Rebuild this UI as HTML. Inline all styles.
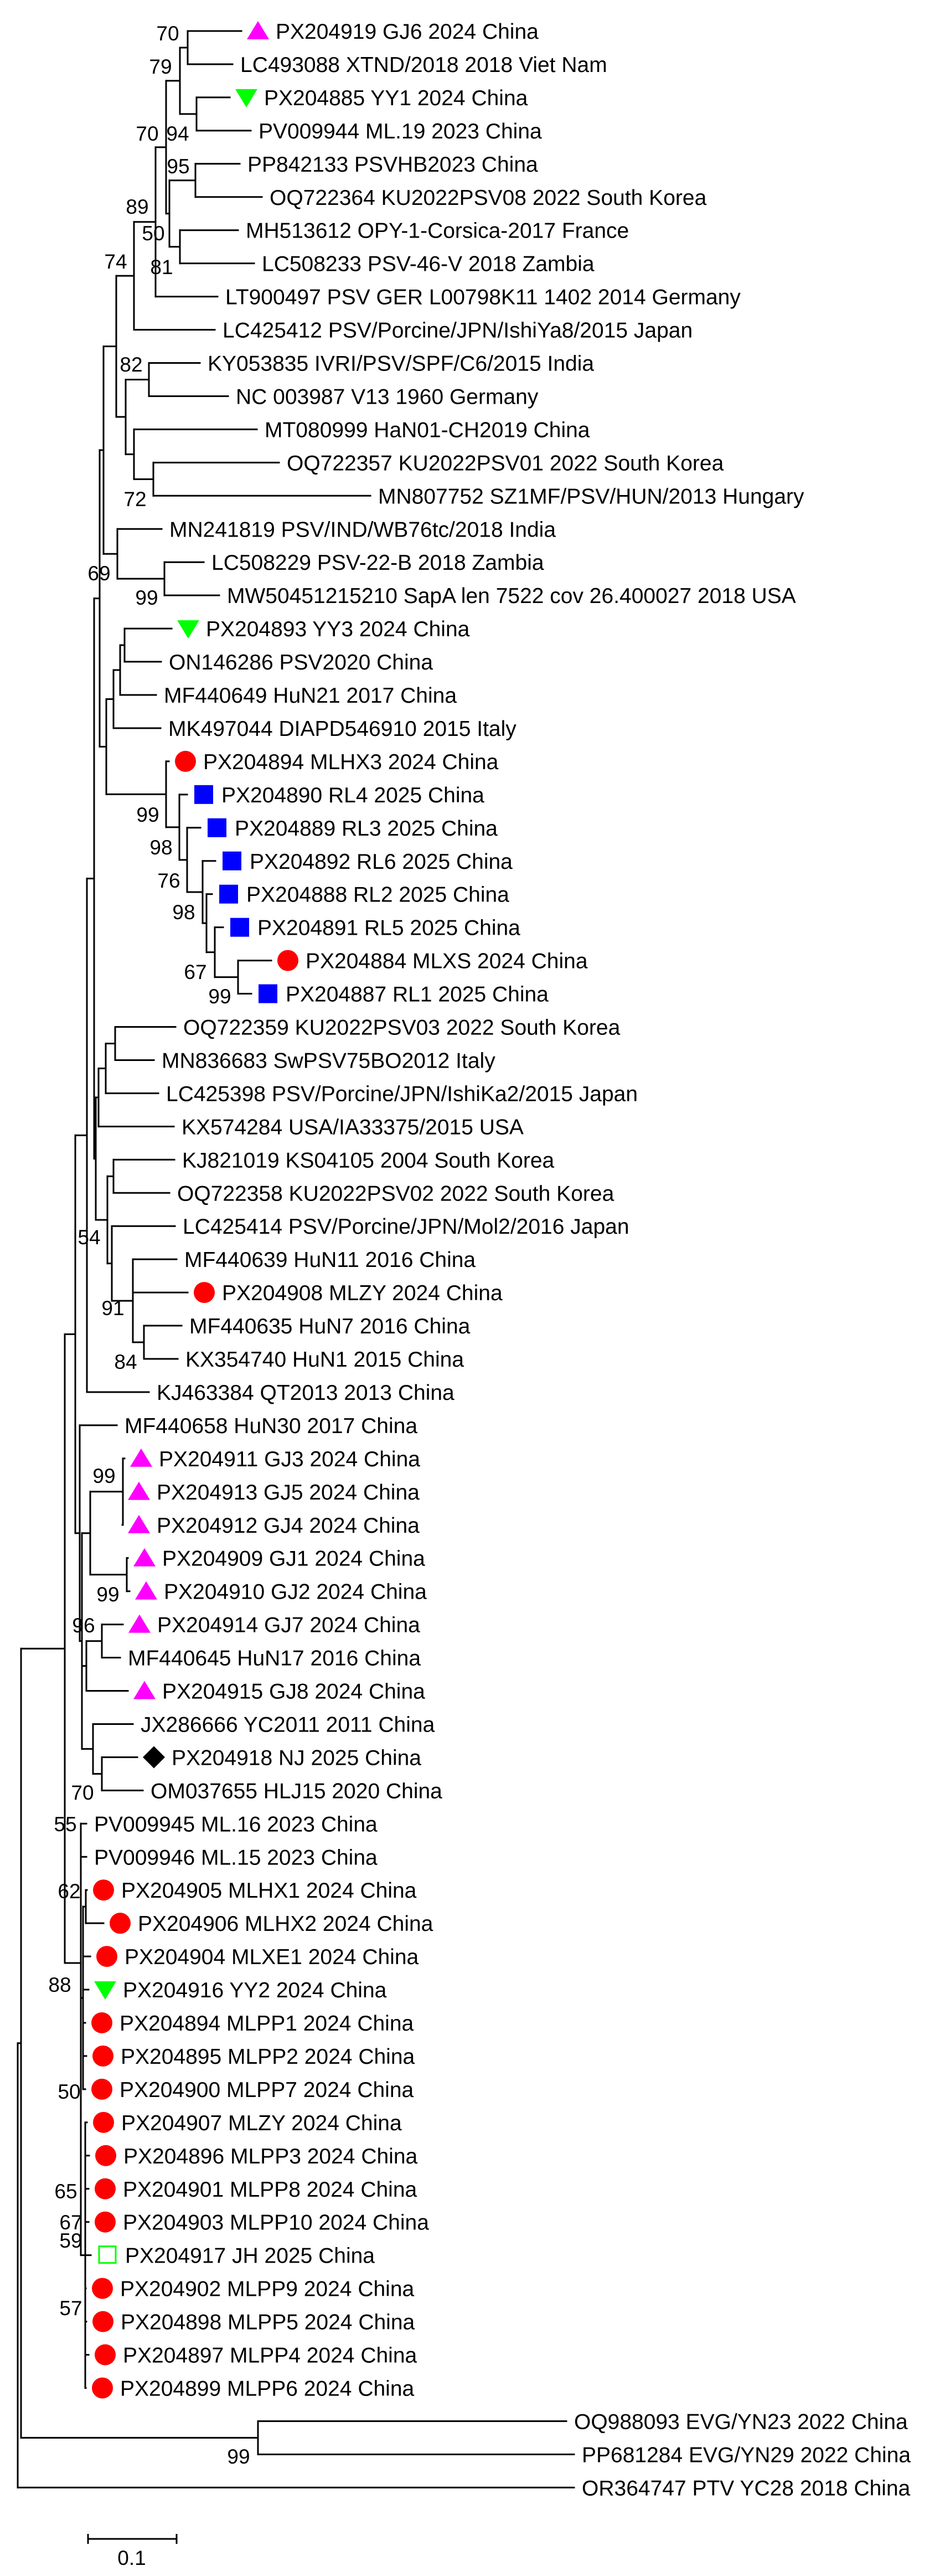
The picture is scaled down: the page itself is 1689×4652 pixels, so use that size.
<!DOCTYPE html>
<html><head><meta charset="utf-8"><title>Phylogenetic tree</title>
<style>html,body{margin:0;padding:0;background:#fff;}svg{display:block;}</style>
</head><body>
<svg id="tree" xmlns="http://www.w3.org/2000/svg" width="1689" height="4652" viewBox="0 0 1689 4652" font-family="'Liberation Sans', Arial, sans-serif">
<rect width="1689" height="4652" fill="#fff"/>
<g id="lines" stroke="#000" stroke-width="3" fill="none" stroke-linecap="square"></g>
<g id="marks"></g>
<g id="labels" font-size="39" fill="#000"></g>
<g id="boots" font-size="37" fill="#000" text-anchor="middle"></g>
<g id="scale">
<line x1="159" y1="4585" x2="319" y2="4585" stroke="#000" stroke-width="3"/>
<line x1="159" y1="4576" x2="159" y2="4594" stroke="#000" stroke-width="3"/>
<line x1="319" y1="4576" x2="319" y2="4594" stroke="#000" stroke-width="3"/>
<text x="238" y="4632" font-size="37" text-anchor="middle">0.1</text>
</g>
</svg>
<script>
const leafLabels=["PX204919 GJ6 2024 China","LC493088 XTND/2018 2018 Viet Nam","PX204885 YY1 2024 China","PV009944 ML.19 2023 China","PP842133 PSVHB2023 China","OQ722364 KU2022PSV08 2022 South Korea","MH513612 OPY-1-Corsica-2017 France","LC508233 PSV-46-V 2018 Zambia","LT900497 PSV GER L00798K11 1402 2014 Germany","LC425412 PSV/Porcine/JPN/IshiYa8/2015 Japan","KY053835 IVRI/PSV/SPF/C6/2015 India","NC 003987 V13 1960 Germany","MT080999 HaN01-CH2019 China","OQ722357 KU2022PSV01 2022 South Korea","MN807752 SZ1MF/PSV/HUN/2013 Hungary","MN241819 PSV/IND/WB76tc/2018 India","LC508229 PSV-22-B 2018 Zambia","MW50451215210 SapA len 7522 cov 26.400027 2018 USA","PX204893 YY3 2024 China","ON146286 PSV2020 China","MF440649 HuN21 2017 China","MK497044 DIAPD546910 2015 Italy","PX204894 MLHX3 2024 China","PX204890 RL4 2025 China","PX204889 RL3 2025 China","PX204892 RL6 2025 China","PX204888 RL2 2025 China","PX204891 RL5 2025 China","PX204884 MLXS 2024 China","PX204887 RL1 2025 China","OQ722359 KU2022PSV03 2022 South Korea","MN836683 SwPSV75BO2012 Italy","LC425398 PSV/Porcine/JPN/IshiKa2/2015 Japan","KX574284 USA/IA33375/2015 USA","KJ821019 KS04105 2004 South Korea","OQ722358 KU2022PSV02 2022 South Korea","LC425414 PSV/Porcine/JPN/Mol2/2016 Japan","MF440639 HuN11 2016 China","PX204908 MLZY 2024 China","MF440635 HuN7 2016 China","KX354740 HuN1 2015 China","KJ463384 QT2013 2013 China","MF440658 HuN30 2017 China","PX204911 GJ3 2024 China","PX204913 GJ5 2024 China","PX204912 GJ4 2024 China","PX204909 GJ1 2024 China","PX204910 GJ2 2024 China","PX204914 GJ7 2024 China","MF440645 HuN17 2016 China","PX204915 GJ8 2024 China","JX286666 YC2011 2011 China","PX204918 NJ 2025 China","OM037655 HLJ15 2020 China","PV009945 ML.16 2023 China","PV009946 ML.15 2023 China","PX204905 MLHX1 2024 China","PX204906 MLHX2 2024 China","PX204904 MLXE1 2024 China","PX204916 YY2 2024 China","PX204894 MLPP1 2024 China","PX204895 MLPP2 2024 China","PX204900 MLPP7 2024 China","PX204907 MLZY 2024 China","PX204896 MLPP3 2024 China","PX204901 MLPP8 2024 China","PX204903 MLPP10 2024 China","PX204917 JH 2025 China","PX204902 MLPP9 2024 China","PX204898 MLPP5 2024 China","PX204897 MLPP4 2024 China","PX204899 MLPP6 2024 China","OQ988093 EVG/YN23 2022 China","PP681284 EVG/YN29 2022 China","OR364747 PTV YC28 2018 China"];
const leafMarkers=["tu","","td","","","","","","","","","","","","","","","","td","","","","c","s","s","s","s","s","c","s","","","","","","","","","c","","","","","tu","tu","tu","tu","tu","tu","","tu","","d","","","","c","c","c","td","c","c","c","c","c","c","c","o","c","c","c","c","","",""];
const tipX=[436,420,415,453,433,473,430,459,393,388,361,412,464,504,669,292,368,396,310,291,282,290,305,338,362,389,383,403,490,454,317,278,286,314,315,306,316,319,339,328,321,269,211,225,221,221,231,234,222,217,231,240,248,258,156,156,157,187,163,160,154,156,154,157,161,160,160,164,155,156,160,155,1023,1037,1037];
const bootVals=[70,79,70,94,95,89,50,81,74,82,72,69,99,99,98,76,98,67,99,54,91,84,99,99,96,70,55,62,88,50,65,67,59,57,99];
const bootPos=[[303,60],[290,120],[266,241],[321,241],[322,300],[248,373],[277,421],[292,482],[209,472],[237,658],[244,901],[179,1035],[265,1079],[267,1471],[291,1530],[305,1590],[332,1647],[353,1755],[397,1799],[161,2234],[204,2362],[227,2459],[188,2665],[195,2879],[151,2935],[149,3237],[118,3294],[125,3415],[108,3584],[125,3777],[119,3957],[128,4013],[128,4046],[128,4168],[431,4436]];
const treeSpec={x:32,c:[{x:38,c:[{x:117,c:[
 {x:136,c:[
  {x:157,c:[
   {x:170,c:[
    {x:180,c:[
     {x:187,c:[
      {x:210,c:[
       {x:242,c:[{x:281,c:[{x:300,c:[{x:325,c:[{x:339,c:[0,1]},{x:355,c:[2,3]}]},{x:306,c:[{x:353,c:[4,5]},{x:325,c:[6,7]}]}]},8]},9]},
       {x:227,c:[{x:269,c:[10,11]},{x:242,c:[12,{x:277,c:[13,14]}]}]}]},
      {x:212,c:[15,{x:297,c:[16,17]}]}]},
     {x:192,c:[{x:205,c:[{x:217,c:[{x:225,c:[18,19]},20]},21]},
      {x:300,c:[22,{x:324,c:[23,{x:338,c:[24,{x:366,c:[25,{x:373,c:[26,{x:388,c:[27,{x:430,c:[28,29]}]}]}]}]}]}]}]}]},
    {x:173,c:[{x:178,c:[{x:191,c:[{x:208,c:[30,31]},32]},33]},
     {x:194,c:[{x:205,c:[34,35]},{x:202,c:[36,{x:240,c:[37,38,{x:260,c:[39,40]}]}]}]}]}]},
   41]},
  {x:144,c:[42,{x:148,c:[
   {x:163,c:[{x:222,c:[43,44,45]},{x:229,c:[46,47]}]},
   {x:156,c:[{x:184,c:[48,49]},50]},
   {x:168,c:[51,{x:184,c:[52,53]}]}]}]}]},
 {x:146,y:3545,c:[54,55,{x:150,c:[{x:155,c:[56,57]},58,59,60,61,62]},{x:154,c:[63,64,65,66,67,68,69,70,71]}]}]},
 {x:466,c:[72,73]}]},74]};
const SVGNS="http://www.w3.org/2000/svg";
const gLines=document.getElementById('lines'),gMarks=document.getElementById('marks'),gLab=document.getElementById('labels'),gBoot=document.getElementById('boots');
function rowY(i){return 56+59.95*i;}
function mk(tag,attrs,parent){const e=document.createElementNS(SVGNS,tag);for(const k in attrs)e.setAttribute(k,attrs[k]);parent.appendChild(e);return e;}
function line(x1,y1,x2,y2,name){const l=mk('line',{x1:x1,y1:y1,x2:x2,y2:y2},gLines);

}
function layout(n,px){
 if(typeof n==='number'){const y=rowY(n);if(px!==null)line(px,y,tipX[n],y,'branch-'+n);return {y:y};}
 const ys=n.c.map(ch=>layout(ch,n.x).y);
 const lo=Math.min(...ys),hi=Math.max(...ys);
 line(n.x,lo,n.x,hi,'node-vertical');
 const y=n.y!==undefined?n.y:(lo+hi)/2;
 if(px!==null)line(px,y,n.x,y,'internal-branch');
 return {y:y};
}
layout(treeSpec,null);
leafLabels.forEach((t,i)=>{
 const y=rowY(i),m=leafMarkers[i];const cx=tipX[i]+30;
 let tx=m?tipX[i]+62:tipX[i]+14;
 let el=null;
 if(m==='c')el=mk('circle',{cx:cx,cy:y,r:19,fill:'#ff0000'},gMarks);
 else if(m==='tu')el=mk('polygon',{points:`${cx-20},${y+15} ${cx+20},${y+15} ${cx},${y-18}`,fill:'#ff00ff'},gMarks);
 else if(m==='td')el=mk('polygon',{points:`${cx-20},${y-15} ${cx+20},${y-15} ${cx},${y+18}`,fill:'#00ff00'},gMarks);
 else if(m==='s')el=mk('rect',{x:cx-17,y:y-17,width:34,height:34,fill:'#0000ff'},gMarks);
 else if(m==='d')el=mk('polygon',{points:`${cx-20},${y} ${cx},${y-20} ${cx+20},${y} ${cx},${y+20}`,fill:'#000'},gMarks);
 else if(m==='o')el=mk('rect',{x:cx-15,y:y-16,width:30,height:30,fill:'none',stroke:'#00ff00','stroke-width':3},gMarks);
 if(el){
  
  
 }
 const tEl=mk('text',{x:tx,y:y+14},gLab);tEl.textContent=t;
 
 
});
bootVals.forEach((v,i)=>{
 const b=mk('text',{x:bootPos[i][0],y:bootPos[i][1]+13},gBoot);b.textContent=v;
 
 
});
</script>
</body></html>
